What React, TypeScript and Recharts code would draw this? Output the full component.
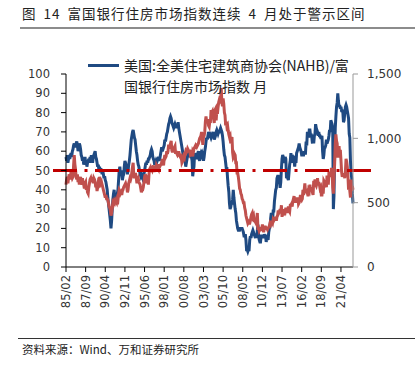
import React from "react";
import { LineChart, Line, XAxis, YAxis, ReferenceLine } from "recharts";

// 美国 NAHB/富国银行住房市场指数（左轴），1985/02 - 2022/11，月度
const nahbIndex = [
  57, 55, 58, 54, 56, 58, 56, 58, 59, 57, 60,
  61, 63, 64, 62, 63, 64, 65, 63, 60, 62, 64, 63,
  61, 58, 57, 55, 56, 53, 55, 57, 54, 55, 52, 54,
  55, 56, 54, 57, 55, 58, 56, 54, 57, 58, 59, 60,
  57, 56, 54, 52, 53, 50, 52, 49, 51, 50, 48, 50,
  48, 46, 47, 45, 44, 42, 40, 36, 33, 30, 27, 24,
  20, 24, 30, 35, 38, 40, 36, 37, 34, 35, 38, 40,
  45, 50, 52, 48, 50, 48, 45, 47, 48, 52, 55, 54,
  52, 50, 48, 50, 53, 55, 58, 62, 66, 68, 70, 71,
  69, 67, 66, 63, 60, 58, 55, 53, 52, 50, 48, 47,
  48, 47, 46, 47, 48, 50, 52, 54, 53, 55, 54, 56,
  56, 57, 58, 60, 61, 60, 57, 56, 55, 53, 54, 55,
  54, 55, 56, 57, 55, 56, 58, 60, 62, 60, 61, 62,
  63, 66, 65, 67, 69, 70, 72, 74, 75, 77, 78, 77,
  75, 74, 73, 72, 73, 74, 73, 72, 74, 73, 75, 72,
  70, 68, 66, 64, 62, 60, 58, 56, 57, 55, 52, 54,
  56, 58, 59, 60, 58, 57, 59, 57, 55, 47, 50, 52,
  59, 58, 57, 56, 58, 59, 60, 56, 55, 58, 59, 58,
  59, 58, 55, 57, 60, 62, 65, 67, 66, 68, 70, 69,
  67, 68, 67, 68, 69, 70, 68, 66, 67, 68, 70, 71,
  70, 69, 70, 70, 71, 72, 71, 70, 68, 65, 61, 58,
  57, 54, 51, 51, 46, 42, 39, 33, 30, 31, 33, 33,
  35, 40, 36, 33, 30, 28, 24, 22, 20, 19, 19, 19,
  20, 20, 20, 20, 19, 18, 16, 16, 17, 14, 9, 9,
  8, 9, 9, 14, 16, 15, 17, 18, 19, 18, 17, 16,
  15, 17, 15, 19, 22, 16, 14, 13, 13, 16, 16, 16,
  16, 15, 17, 16, 16, 13, 15, 15, 14, 18, 20, 21,
  25, 28, 25, 24, 29, 29, 34, 37, 40, 41, 46, 47,
  47, 46, 44, 41, 44, 51, 56, 58, 57, 55, 54, 57,
  56, 46, 47, 46, 45, 49, 53, 55, 59, 54, 58, 57,
  57, 55, 52, 56, 54, 59, 60, 61, 62, 64, 62, 61,
  60, 58, 58, 58, 58, 60, 59, 59, 65, 63, 70, 69,
  67, 71, 71, 68, 69, 67, 64, 68, 64, 68, 69, 74,
  72, 71, 70, 68, 70, 68, 68, 67, 67, 68, 60, 56,
  58, 62, 62, 63, 66, 64, 65, 66, 68, 71, 70, 76,
  75, 74, 72, 30, 37, 58, 72, 78, 83, 85, 90, 86,
  83, 84, 82, 83, 81, 81, 80, 75, 76, 80, 83, 84,
  83, 81, 79, 77, 69, 67, 55, 49, 46, 38, 33,
];

// 美国新建住房销售（千套，右轴）
const newHomeSales = [
  640, 680, 700, 650, 690, 720, 680, 700, 740, 710, 690,
  700, 790, 870, 800, 760, 700, 680, 720, 660, 700, 640, 680,
  700, 660, 640, 690, 650, 640, 610, 650, 660, 600, 620, 580,
  570, 620, 650, 680, 690, 660, 700, 680, 650, 690, 680, 660,
  620, 640, 590, 620, 660, 650, 700, 680, 650, 660, 640, 620,
  600, 580, 560, 540, 560, 530, 530, 520, 500, 470, 460, 440,
  400, 420, 460, 500, 490, 510, 500, 520, 510, 500, 530, 520,
  570, 600, 590, 570, 580, 560, 590, 600, 620, 630, 640, 650,
  630, 620, 580, 600, 650, 670, 690, 680, 700, 740, 780, 810,
  710, 690, 720, 720, 690, 650, 680, 690, 660, 650, 640, 610,
  580, 600, 600, 620, 660, 700, 720, 680, 650, 690, 680, 640,
  720, 760, 770, 740, 760, 750, 770, 790, 740, 760, 770, 740,
  790, 780, 770, 760, 800, 780, 790, 800, 810, 840, 810, 790,
  840, 870, 850, 860, 900, 880, 900, 950, 920, 940, 960, 980,
  910, 890, 920, 900, 930, 940, 880, 900, 880, 870, 880, 900,
  870, 860, 880, 850, 810, 820, 830, 860, 850, 880, 900, 890,
  900, 920, 910, 890, 910, 880, 890, 880, 860, 900, 890, 920,
  930, 940, 920, 960, 940, 950, 960, 980, 1000, 1010, 1020, 1050,
  1000, 950, 1010, 1020, 1050, 1130, 1170, 1130, 1130, 1150, 1100, 1090,
  1130, 1130, 1220, 1200, 1210, 1170, 1150, 1120, 1220, 1230, 1140, 1210,
  1190, 1240, 1280, 1300, 1290, 1300, 1390, 1280, 1250, 1310, 1270, 1200,
  1180, 1100, 1130, 1090, 1100, 1060, 1030, 1010, 1020, 960, 1000, 1010,
  890, 850, 860, 880, 870, 810, 810, 730, 730, 700, 660, 610,
  600, 570, 560, 530, 520, 500, 500, 460, 440, 400, 380, 360,
  340, 350, 340, 340, 360, 390, 410, 420, 390, 400, 360, 360,
  350, 340, 370, 420, 300, 300, 280, 290, 310, 290, 290, 330,
  300, 270, 300, 310, 310, 300, 300, 290, 300, 310, 320, 340,
  330, 350, 350, 340, 370, 360, 370, 380, 380, 360, 390, 400,
  440, 420, 430, 450, 430, 480, 390, 430, 400, 440, 440, 430,
  460, 440, 430, 430, 470, 440, 430, 480, 480, 490, 470, 510,
  530, 550, 500, 530, 530, 500, 520, 540, 490, 500, 520, 560,
  530, 520, 530, 600, 560, 600, 650, 590, 590, 580, 590, 550,
  600, 590, 640, 590, 610, 610, 580, 560, 670, 630, 680, 640,
  630, 650, 690, 640, 660, 640, 610, 620, 560, 560, 620, 570,
  670, 660, 640, 650, 620, 710, 680, 640, 730, 730, 700, 730,
  770, 740, 620, 570, 700, 800, 960, 1030, 980, 960, 860, 860,
  940, 870, 910, 830, 740, 700, 720, 700, 730, 690, 740, 840,
  820, 780, 710, 600, 660, 590, 540, 680, 590, 630, 600,
];

const leftTicks = [0, 10, 20, 30, 40, 50, 60, 70, 80, 90, 100];
const rightTicks = [0, 500, 1000, 1500];
const warningLevel = 50;

// 月份类别：从 85/02 开始逐月
const months: string[] = nahbIndex.map((_, i) => {
  const m = 1 + i; // 0 = 1985/01
  const y = 1985 + Math.floor(m / 12);
  const mm = (m % 12) + 1;
  return `${String(y % 100).padStart(2, "0")}/${String(mm).padStart(2, "0")}`;
});

const chartData = months.map((month, i) => ({
  month,
  nahb: nahbIndex[i],
  sales: newHomeSales[i],
}));

const BLUE = "#1F4A82";
const RED = "#C0504D";
const DASH_RED = "#C00000";
const tickFont = "'DejaVu Sans', Verdana, sans-serif";
const cjkFont = "'Noto Sans CJK SC', sans-serif";

// 横轴标签竖排
const RotatedTick = (props: any) => {
  const { x, y, payload } = props;
  return (
    <g transform={`translate(${x},${y})`}>
      <text
        transform="rotate(-90)"
        textAnchor="end"
        dy="0.35em"
        fontSize={11.5}
        fontFamily={tickFont}
        fill="#333"
      >
        {payload.value}
      </text>
    </g>
  );
};

// 警示线（伸出坐标轴两侧）
const WarningLine = (props: any) => (
  <line
    x1={props.x1 - 13}
    y1={props.y1}
    x2={props.x2 + 18}
    y2={props.y2}
    stroke={DASH_RED}
    strokeWidth={3}
    strokeDasharray="24 7.5 3 7.5"
  />
);

const App = () => {
  return (
    <div
      style={{
        position: "absolute",
        left: 0,
        top: 0,
        width: 415,
        height: 365,
        background: "#fff",
        overflow: "hidden",
      }}
    >
      {/* 标题 */}
      <div
        style={{
          position: "absolute",
          left: 22,
          top: 4,
          fontFamily: cjkFont,
          fontSize: 13.5,
          lineHeight: "18px",
          letterSpacing: "1px",
          wordSpacing: "3px",
          color: "#222",
          whiteSpace: "nowrap",
        }}
      >
        图 14 富国银行住房市场指数连续 4 月处于警示区间
      </div>
      <div
        style={{
          position: "absolute",
          left: 20,
          top: 27,
          width: 395,
          height: 2,
          background: "#8c8c8c",
        }}
      />

      <LineChart
        width={415}
        height={365}
        data={chartData}
        margin={{ top: 74, right: 7, bottom: 58, left: 26 }}
      >
        <XAxis
          dataKey="month"
          interval={30}
          height={40}
          tickSize={5}
          tickMargin={3}
          tick={<RotatedTick />}
          axisLine={{ stroke: "#000" }}
          tickLine={{ stroke: "#000" }}
        />
        <YAxis
          yAxisId="left"
          domain={[0, 100]}
          ticks={leftTicks}
          width={40}
          tickSize={5}
          tickMargin={11}
          axisLine={{ stroke: "#000" }}
          tickLine={{ stroke: "#000" }}
          tick={{ fontSize: 11.5, fontFamily: tickFont, fill: "#333" }}
        />
        <YAxis
          yAxisId="right"
          orientation="right"
          domain={[0, 1500]}
          ticks={rightTicks}
          width={55}
          tickSize={5}
          tickMargin={9}
          tickFormatter={(v: number) => v.toLocaleString("en-US")}
          axisLine={{ stroke: "#999" }}
          tickLine={{ stroke: "#999" }}
          tick={{ fontSize: 12, fontFamily: tickFont, fill: "#333" }}
        />

        {/* NAHB 指数 */}
        <Line
          yAxisId="left"
          dataKey="nahb"
          type="linear"
          stroke={BLUE}
          strokeWidth={3}
          dot={false}
          isAnimationActive={false}
        />
        {/* 新屋销售 */}
        <Line
          yAxisId="right"
          dataKey="sales"
          type="linear"
          stroke={RED}
          strokeWidth={3}
          dot={false}
          isAnimationActive={false}
        />
        <ReferenceLine
          yAxisId="left"
          y={warningLevel}
          shape={WarningLine}
        />
      </LineChart>

      {/* 图例 */}
      <div
        style={{
          position: "absolute",
          left: 88,
          top: 64,
          width: 31,
          height: 3,
          background: BLUE,
        }}
      />
      <div
        style={{
          position: "absolute",
          left: 124,
          top: 55,
          fontFamily: cjkFont,
          fontSize: 14,
          lineHeight: "21px",
          color: "#222",
          whiteSpace: "nowrap",
        }}
      >
        <div>美国:全美住宅建筑商协会(NAHB)/富</div>
        <div>国银行住房市场指数 月</div>
      </div>

      {/* 资料来源 */}
      <div
        style={{
          position: "absolute",
          left: 18,
          top: 338,
          width: 397,
          height: 1,
          background: "#333",
        }}
      />
      <div
        style={{
          position: "absolute",
          left: 22,
          top: 341,
          fontFamily: cjkFont,
          fontSize: 11.5,
          lineHeight: "16px",
          color: "#222",
          whiteSpace: "nowrap",
        }}
      >
        资料来源：Wind、万和证券研究所
      </div>
    </div>
  );
};

export default App;
